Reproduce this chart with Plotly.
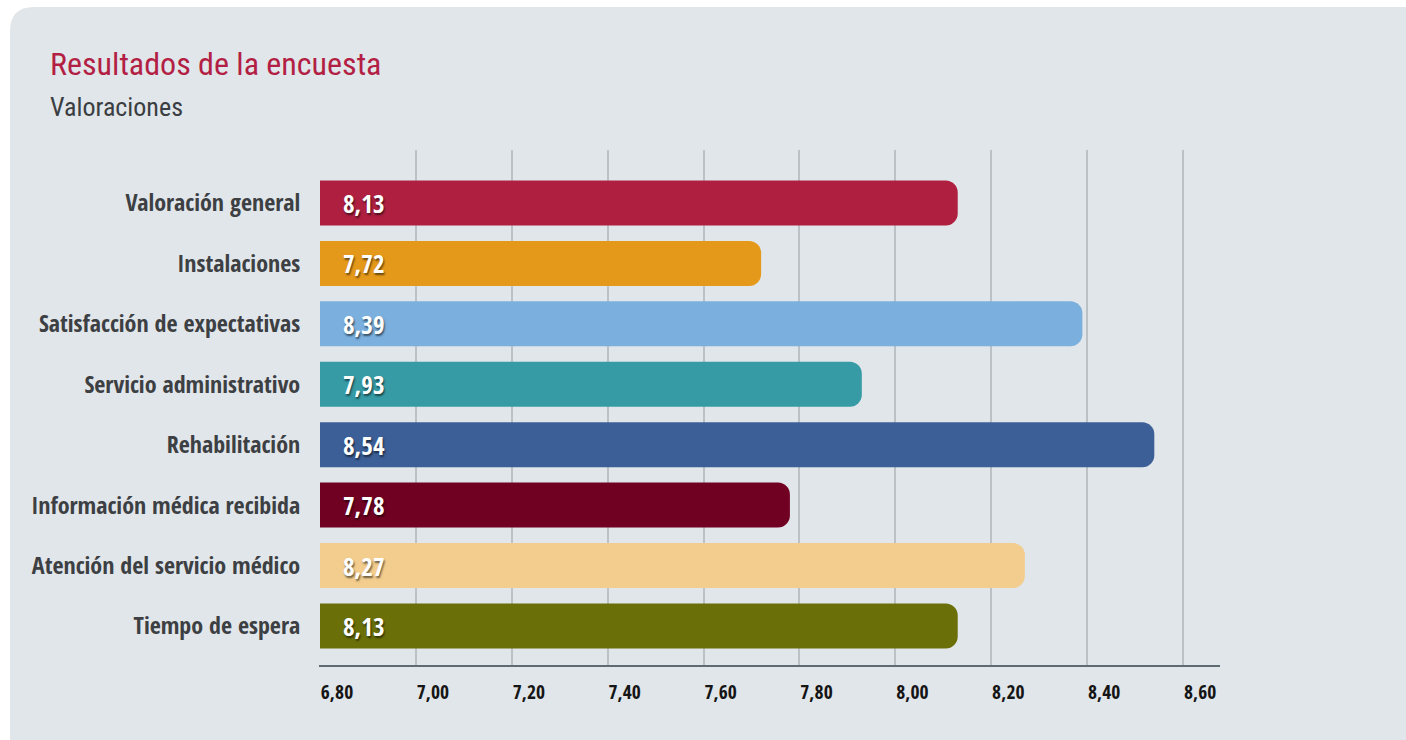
import plotly.graph_objects as go

categories = [
    "Valoración general",
    "Instalaciones",
    "Satisfacción de expectativas",
    "Servicio administrativo",
    "Rehabilitación",
    "Información médica recibida",
    "Atención del servicio médico",
    "Tiempo de espera",
]
values = [8.13, 7.72, 8.39, 7.93, 8.54, 7.78, 8.27, 8.13]
colors = ["#ae1f40", "#e5991a", "#7aafde", "#369ba5", "#3c5f97", "#710123", "#f2cd8d", "#6a7007"]
tick_vals = [6.8, 7.0, 7.2, 7.4, 7.6, 7.8, 8.0, 8.2, 8.4, 8.6]
tick_text = ["6,80", "7,00", "7,20", "7,40", "7,60", "7,80", "8,00", "8,20", "8,40", "8,60"]

W, H = 1406, 740
L, R, T, B = 320, 1406 - 1220, 150, 740 - 665
PW, PH = W - L - R, H - T - B

def px(x):
    return (x - L) / PW

def py(y):
    return (H - B - y) / PH

LABEL_FONT = "Open Sans Condensed, Roboto Condensed, DejaVu Sans Condensed, sans-serif"
TITLE_FONT = "Roboto Condensed, Open Sans Condensed, DejaVu Sans Condensed, sans-serif"

fig = go.Figure()
fig.add_trace(go.Bar(
    x=values,
    y=categories,
    orientation="h",
    marker=dict(color=colors, cornerradius=12, line=dict(width=0)),
    width=0.745,
    hoverinfo="skip",
))

annotations = []
for c, v in zip(categories, values):
    annotations.append(dict(
        x=6.8, y=c, xref="x", yref="y",
        text="<b>" + f"{v:.2f}".replace(".", ",") + "</b>",
        showarrow=False, xanchor="left", yanchor="middle", xshift=21,
        font=dict(family=LABEL_FONT, size=25, color="white",
                  shadow="1px 2px 2px rgba(0,0,0,0.55)"),
    ))

annotations.append(dict(
    x=px(48), y=py(64), xref="paper", yref="paper",
    text="Resultados de la encuesta", showarrow=False,
    xanchor="left", yanchor="middle",
    font=dict(family=TITLE_FONT, size=32, color="#b31f44"),
))
annotations.append(dict(
    x=px(48), y=py(107), xref="paper", yref="paper",
    text="Valoraciones", showarrow=False,
    xanchor="left", yanchor="middle",
    font=dict(family=TITLE_FONT, size=26, color="#3a3d41"),
))

x0, y0, rx, ry = px(10), py(7), 24 / PW, 24 / PH
x1, y1 = px(W + 40), py(H + 40)
panel_path = (f"M {x0},{y1} L {x0},{y0 - ry} Q {x0},{y0} {x0 + rx},{y0} "
              f"L {x1},{y0} L {x1},{y1} Z")

fig.update_layout(
    width=W, height=H,
    margin=dict(l=L, r=R, t=T, b=B, autoexpand=False),
    paper_bgcolor="white",
    plot_bgcolor="rgba(0,0,0,0)",
    separators=",.",
    showlegend=False,
    bargap=0.255,
    shapes=[dict(type="path", path=panel_path, xref="paper", yref="paper",
                 fillcolor="#e1e6ea", line=dict(width=0), layer="below")],
    annotations=annotations,
    xaxis=dict(
        range=[6.8, 8.677],
        tickvals=tick_vals, ticktext=["<b>" + t + "</b>" for t in tick_text],
        showgrid=True, gridcolor="#bcc1c5", gridwidth=2,
        showline=True, linecolor="#5f6b73", linewidth=2,
        zeroline=False, ticks="",
        ticklabelshift=17, ticklabelstandoff=9,
        tickfont=dict(family=LABEL_FONT, size=19.5, color="#151515"),
        fixedrange=True,
    ),
    yaxis=dict(
        categoryorder="array", categoryarray=categories,
        range=[7.646, -0.877],
        showgrid=False, zeroline=False,
        showline=True, linecolor="rgba(0,0,0,0)", linewidth=1,
        ticks="", ticklabelstandoff=14,
        tickvals=categories, ticktext=["<b>" + c + "</b>" for c in categories],
        tickfont=dict(family=LABEL_FONT, size=24, color="#3d4043"),
        fixedrange=True,
    ),
)

fig.write_html(
    "out.html",
    config={"displayModeBar": False},
    post_script="document.body.style.margin='0';document.body.style.overflow='hidden';",
)
